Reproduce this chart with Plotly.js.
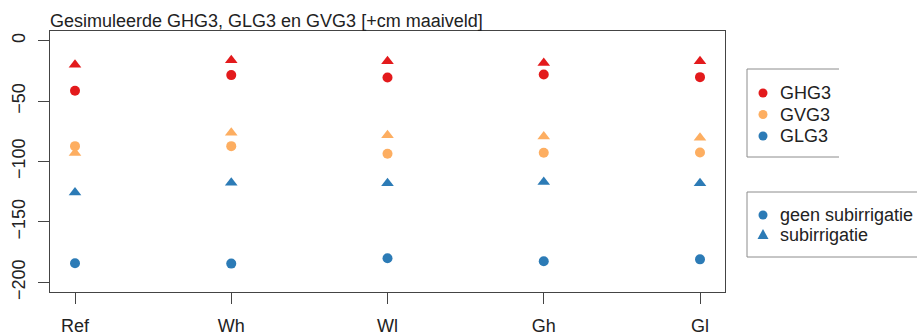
<!DOCTYPE html>
<html>
<head>
<meta charset="utf-8">
<script src="https://cdn.plot.ly/plotly-3.0.1.min.js"></script>
<style>
  html, body { margin: 0; padding: 0; background: #fff; }
  #chart { width: 917px; height: 336px; }
</style>
</head>
<body>
<div id="chart"></div>
<script>
// Scenarios along the x axis
const scenarios = ["Ref", "Wh", "Wl", "Gh", "Gl"];

// Simulated groundwater levels [+cm maaiveld], without subirrigation
const ghgGeen = [-41.5, -28.5, -30.5, -28, -30.2];
const gvgGeen = [-87.3, -87.3, -93.6, -92.8, -92.5];
const glgGeen = [-184.2, -184.5, -180, -182.5, -181];

// ... and with subirrigation
const ghgSub = [-20, -16.2, -17, -18.4, -17];
const gvgSub = [-93, -76.3, -78.2, -79.3, -80.4];
const glgSub = [-125.7, -117.5, -118, -117, -118];

const yTicks = [0, -50, -100, -150, -200];

const colGHG = "#E31A1C";
const colGVG = "#FDAE61";
const colGLG = "#2C7BB6";

const xIdx = scenarios.map((_, i) => i + 1);

function pts(y, color, symbol) {
  return {
    type: "scatter", mode: "markers",
    x: xIdx, y: y,
    marker: { color: color, symbol: symbol, size: symbol === "circle" ? 10 : 11, line: { width: 0 } },
    showlegend: false, hoverinfo: "skip", cliponaxis: false
  };
}

const traces = [
  pts(ghgGeen, colGHG, "circle"),
  pts(gvgGeen, colGVG, "circle"),
  pts(glgGeen, colGLG, "circle"),
  pts(ghgSub, colGHG, "triangle-up"),
  pts(gvgSub, colGVG, "triangle-up"),
  pts(glgSub, colGLG, "triangle-up")
];

// Hand-drawn legends to the right of the plot (paper coordinates)
const W = 917, H = 336;
const mL = 50, mR = 192, mT = 31, mB = 44;
const pw = W - mL - mR, ph = H - mT - mB;
const px = x => (x - mL) / pw;          // pixel -> paper x
const py = y => (H - mB - y) / ph;      // pixel -> paper y

const shapes = [];
const annotations = [];
const boxCol = "#8c8c8c";

function hline(x0, x1, y) {
  shapes.push({ type: "line", xref: "paper", yref: "paper", x0: px(x0), x1: px(x1), y0: py(y), y1: py(y), line: { color: boxCol, width: 1 } });
}
function vline(x, y0, y1) {
  shapes.push({ type: "line", xref: "paper", yref: "paper", x0: px(x), x1: px(x), y0: py(y0), y1: py(y1), line: { color: boxCol, width: 1 } });
}
function symbol(kind, color, x, y) {
  if (kind === "circle") {
    shapes.push({ type: "circle", xref: "paper", yref: "paper", xsizemode: "pixel", ysizemode: "pixel",
      xanchor: px(x), yanchor: py(y), x0: -4.5, x1: 4.5, y0: -4.5, y1: 4.5,
      fillcolor: color, line: { width: 0 } });
  } else {
    shapes.push({ type: "path", xref: "paper", yref: "paper", xsizemode: "pixel", ysizemode: "pixel",
      xanchor: px(x), yanchor: py(y), path: "M-5.5,-4 L5.5,-4 L0,6 Z",
      fillcolor: color, line: { width: 0 } });
  }
}
function label(text, x, y) {
  annotations.push({ text: text, xref: "paper", yref: "paper", x: px(x), y: py(y),
    xanchor: "left", yanchor: "middle", showarrow: false,
    font: { family: "Liberation Sans, Arial, sans-serif", size: 18, color: "#222" } });
}

// Legend 1: variables
hline(747, 839, 69); hline(747, 839, 157); vline(747, 69, 157);
const legVars = [["GHG3", colGHG, 93], ["GVG3", colGVG, 114.5], ["GLG3", colGLG, 136]];
legVars.forEach(([t, c, y]) => { symbol("circle", c, 763, y); label(t, 778, y); });

// Legend 2: symbols
hline(747, 917, 192); hline(747, 917, 257); vline(747, 192, 257);
symbol("circle", colGLG, 763, 215); label("geen subirrigatie", 778, 215);
symbol("triangle", colGLG, 763, 235); label("subirrigatie", 778, 235);

const layout = {
  width: W, height: H,
  margin: { l: mL, r: mR, t: mT, b: mB, pad: 0 },
  paper_bgcolor: "#fff", plot_bgcolor: "#fff",
  font: { family: "Liberation Sans, Arial, sans-serif", size: 18, color: "#222" },
  title: {
    text: "Gesimuleerde GHG3, GLG3 en GVG3 [+cm maaiveld]",
    xref: "paper", x: 0, xanchor: "left",
    yref: "paper", y: 1, yanchor: "bottom",
    pad: { b: 4 },
    font: { size: 18, color: "#222" }
  },
  xaxis: {
    range: [0.84, 5.16], tickvals: xIdx, ticktext: scenarios,
    showgrid: false, zeroline: false,
    showline: true, mirror: true, linecolor: "#444", linewidth: 1,
    ticks: "outside", ticklen: 11, tickcolor: "#444", tickwidth: 1,
    ticklabelstandoff: 6
  },
  yaxis: {
    range: [-208, 8], tickvals: yTicks,
    showgrid: false, zeroline: false,
    showline: true, mirror: true, linecolor: "#444", linewidth: 1,
    ticks: "outside", ticklen: 11, tickcolor: "#444", tickwidth: 1,
    tickangle: -90, ticklabelstandoff: 6
  },
  shapes: shapes,
  annotations: annotations,
  showlegend: false
};

Plotly.newPlot("chart", traces, layout, { displayModeBar: false, staticPlot: true });
</script>
</body>
</html>
